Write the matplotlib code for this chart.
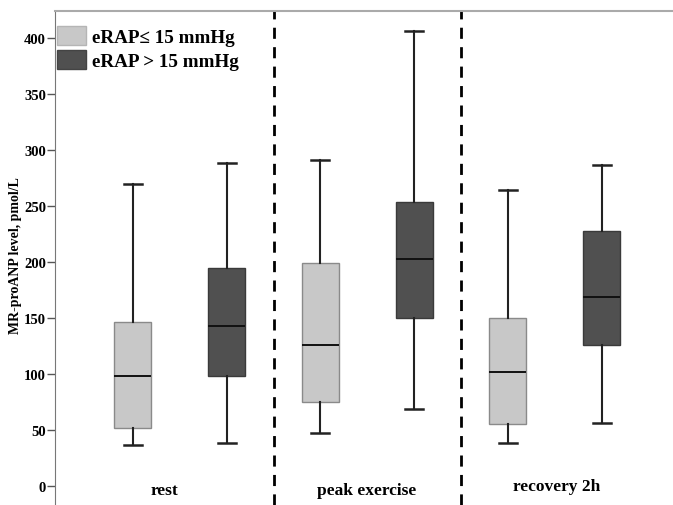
import matplotlib.pyplot as plt
from matplotlib.patches import Patch

plt.rcParams['font.family'] = ['Liberation Serif', 'DejaVu Serif']
plt.rcParams['font.weight'] = 'bold'

# box statistics: (whislo, q1, med, q3, whishi)
groups = ['rest', 'peak exercise', 'recovery 2h']
low_lo = [36, 47, 38]
low_q1 = [52, 75, 55]
low_med = [98, 126, 102]
low_q3 = [146, 199, 150]
low_hi = [270, 291, 264]

high_lo = [38, 69, 56]
high_q1 = [98, 150, 126]
high_med = [143, 203, 169]
high_q3 = [195, 254, 228]
high_hi = [288, 406, 287]

series_labels = ['eRAP\u2264 15 mmHg', 'eRAP > 15 mmHg']
yticks = [0, 50, 100, 150, 200, 250, 300, 350, 400]

light = '#c8c8c8'
dark = '#505050'

fig = plt.figure(figsize=(6.73, 5.06), dpi=100)
ax = fig.add_axes([55 / 673, 0, 1 - 55 / 673, 1 - 11.7 / 506])


def make_stats(lo, q1, med, q3, hi):
    out = []
    for i in range(len(lo)):
        out.append({'whislo': lo[i], 'q1': q1[i], 'med': med[i],
                    'q3': q3[i], 'whishi': hi[i], 'fliers': []})
    return out


pos_low = [1, 3, 5]
pos_high = [2, 4, 6]

for stats, pos, fc, ec in [
        (make_stats(low_lo, low_q1, low_med, low_q3, low_hi), pos_low, light, '#8a8a8a'),
        (make_stats(high_lo, high_q1, high_med, high_q3, high_hi), pos_high, dark, '#3a3a3a')]:
    ax.bxp(stats, positions=pos, widths=0.395, capwidths=0.19,
           patch_artist=True, showfliers=False,
           boxprops=dict(facecolor=fc, edgecolor=ec, linewidth=1.0),
           medianprops=dict(color='#111111', linewidth=1.4),
           whiskerprops=dict(color='#222222', linewidth=1.5),
           capprops=dict(color='#222222', linewidth=1.8))

# dashed separators
for x in [2.5, 4.5]:
    ax.axvline(x, color='black', linestyle=(0, (4, 3)), linewidth=2.0)

# group labels
label_x = [1.34, 3.49, 5.52]
label_y = [-4, -4, 0]
for x, y, g in zip(label_x, label_y, groups):
    ax.text(x, y, g, ha='center', va='center', fontsize=12.5, fontweight='bold')

ax.set_xlim(0.17, 6.76)
ax.set_ylim(-17.2, 424.5)
ax.set_xticks([])
ax.set_yticks(yticks)
ax.tick_params(axis='y', length=6, width=1, color='#555555', labelsize=10.5, pad=0.5)

ax.spines['right'].set_visible(False)
ax.spines['bottom'].set_visible(False)
ax.spines['top'].set_color('#aaaaaa')
ax.spines['top'].set_linewidth(1.5)
ax.spines['left'].set_color('#777777')

ax.set_ylabel('MR-proANP level, pmol/L', fontsize=10, fontweight='bold')
ax.yaxis.set_label_coords(-0.053, 0.506)

handles = [Patch(facecolor=light, edgecolor='#b5b5b5'),
           Patch(facecolor=dark, edgecolor='#444444')]
ax.legend(handles, series_labels, loc='upper left',
          bbox_to_anchor=(57 / 673, 1 - 27 / 506), bbox_transform=fig.transFigure,
          frameon=False, fontsize=13.8, handlelength=1.5, handleheight=1.15,
          labelspacing=0.2, handletextpad=0.3, borderpad=0, borderaxespad=0)

fig.savefig('out.png', dpi=100)
